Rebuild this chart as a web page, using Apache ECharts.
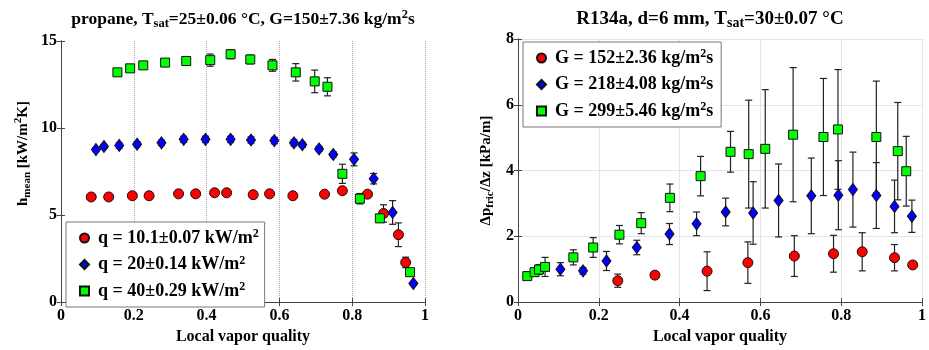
<!DOCTYPE html>
<html>
<head>
<meta charset="utf-8">
<script src="https://cdn.jsdelivr.net/npm/echarts@6/dist/echarts.min.js"></script>
<style>
  html, body { margin: 0; padding: 0; background: #fff; }
  #chart { width: 929px; height: 350px; }
</style>
</head>
<body>
<div id="chart"></div>
<script>
// left panel: propane, mean heat transfer coefficient
const propQ10x = [0.083, 0.131, 0.196, 0.242, 0.323, 0.370, 0.422, 0.455, 0.528, 0.573, 0.637, 0.724, 0.773, 0.842, 0.886, 0.927, 0.947];
const propQ10y = [6.04, 6.04, 6.11, 6.11, 6.22, 6.22, 6.28, 6.28, 6.17, 6.22, 6.11, 6.20, 6.40, 6.20, 5.09, 3.87, 2.28];
const propQ10e = [0.05, 0.05, 0.05, 0.05, 0.05, 0.05, 0.05, 0.05, 0.05, 0.05, 0.05, 0.08, 0.10, 0.12, 0.50, 0.68, 0.30];

const propQ20x = [0.096, 0.118, 0.160, 0.209, 0.276, 0.337, 0.397, 0.466, 0.522, 0.586, 0.640, 0.663, 0.709, 0.748, 0.805, 0.859, 0.911, 0.968];
const propQ20y = [8.76, 8.94, 9.00, 9.07, 9.15, 9.35, 9.35, 9.35, 9.31, 9.28, 9.15, 9.04, 8.80, 8.48, 8.20, 7.09, 5.15, 1.07];
const propQ20e = [0.12, 0.12, 0.15, 0.15, 0.15, 0.18, 0.18, 0.18, 0.18, 0.18, 0.18, 0.15, 0.15, 0.15, 0.37, 0.30, 0.68, 0.10];

const propQ40x = [0.155, 0.190, 0.226, 0.286, 0.344, 0.410, 0.466, 0.520, 0.581, 0.645, 0.697, 0.732, 0.773, 0.821, 0.876, 0.959];
const propQ40y = [13.20, 13.43, 13.60, 13.76, 13.85, 13.90, 14.24, 13.94, 13.60, 13.20, 12.68, 12.37, 7.37, 5.94, 4.81, 1.72];
const propQ40e = [0.12, 0.15, 0.15, 0.20, 0.25, 0.35, 0.26, 0.25, 0.34, 0.50, 0.65, 0.52, 0.55, 0.30, 0.20, 0.12];

// right panel: R134a, frictional pressure gradient
const r134G152x = [0.247, 0.339, 0.468, 0.569, 0.684, 0.781, 0.852, 0.932, 0.977];
const r134G152y = [0.65, 0.82, 0.94, 1.20, 1.40, 1.47, 1.53, 1.35, 1.13];
const r134G152e = [0.20, 0.10, 0.59, 0.63, 0.62, 0.56, 0.58, 0.40, 0.08];

const r134G218x = [0.105, 0.161, 0.219, 0.294, 0.375, 0.442, 0.514, 0.582, 0.645, 0.726, 0.793, 0.829, 0.887, 0.932, 0.975];
const r134G218y = [1.00, 0.95, 1.25, 1.66, 2.07, 2.38, 2.74, 2.71, 3.09, 3.23, 3.25, 3.42, 3.24, 2.91, 2.61];
const r134G218e = [0.20, 0.10, 0.29, 0.22, 0.32, 0.36, 0.42, 0.95, 1.11, 1.15, 1.05, 1.14, 1.00, 0.80, 0.49];

const r134G299x = [0.023, 0.041, 0.052, 0.067, 0.137, 0.186, 0.251, 0.305, 0.376, 0.452, 0.526, 0.571, 0.612, 0.681, 0.756, 0.792, 0.887, 0.940, 0.961];
const r134G299y = [0.79, 0.91, 0.99, 1.07, 1.36, 1.66, 2.05, 2.40, 3.17, 3.83, 4.57, 4.50, 4.66, 5.09, 5.02, 5.25, 5.02, 4.59, 3.98];
const r134G299e = [0.08, 0.10, 0.15, 0.29, 0.23, 0.30, 0.28, 0.32, 0.42, 0.60, 0.62, 1.64, 1.80, 2.04, 1.78, 1.82, 1.70, 1.48, 1.06];

const leftLegend = ['q = 10.1±0.07 kW/m{sup|2}', 'q = 20±0.14 kW/m{sup|2}', 'q = 40±0.29 kW/m{sup|2}'];
const rightLegend = ['G = 152±2.36 kg/m{sup|2}s', 'G = 218±4.08 kg/m{sup|2}s', 'G = 299±5.46 kg/m{sup|2}s'];

const FONT = '"Liberation Serif", "Times New Roman", serif';
const RED = '#ff0000', BLUE = '#0000ff', GREEN = '#00ff00';

function richSet(size) {
  return {
    sub: { fontSize: size, lineHeight: size, verticalAlign: 'bottom', fontWeight: 'bold', fontFamily: FONT },
    sup: { fontSize: size, lineHeight: size, verticalAlign: 'top', fontWeight: 'bold', fontFamily: FONT }
  };
}

function pts(xs, ys) {
  return xs.map((x, i) => [x, ys[i]]);
}
function errs(xs, ys, es) {
  return xs.map((x, i) => [x, ys[i] - es[i], ys[i] + es[i]]);
}

function errorBars(xi, yi, xs, ys, es) {
  return {
    type: 'custom',
    xAxisIndex: xi,
    yAxisIndex: yi,
    z: 1,
    silent: true,
    data: errs(xs, ys, es),
    renderItem: function (params, api) {
      const lo = api.coord([api.value(0), api.value(1)]);
      const hi = api.coord([api.value(0), api.value(2)]);
      const w = 3.5;
      const st = { stroke: '#222', lineWidth: 1.2 };
      return {
        type: 'group',
        children: [
          { type: 'line', shape: { x1: lo[0], y1: lo[1], x2: hi[0], y2: hi[1] }, style: st },
          { type: 'line', shape: { x1: lo[0] - w, y1: lo[1], x2: lo[0] + w, y2: lo[1] }, style: st },
          { type: 'line', shape: { x1: hi[0] - w, y1: hi[1], x2: hi[0] + w, y2: hi[1] }, style: st }
        ]
      };
    }
  };
}

function scatter(name, xi, yi, xs, ys, symbol, size, color) {
  return {
    name: name,
    type: 'scatter',
    xAxisIndex: xi,
    yAxisIndex: yi,
    z: 3,
    symbol: symbol,
    symbolSize: size,
    itemStyle: { color: color, borderColor: '#111', borderWidth: 1, opacity: 1 },
    data: pts(xs, ys)
  };
}

const labelStyle = { fontFamily: FONT, fontWeight: 'bold', fontSize: 16, color: '#000' };

function mainX(gi, split) {
  return {
    type: 'value', gridIndex: gi, min: 0, max: 1, interval: 0.2,
    axisLine: { lineStyle: { color: '#444' } },
    axisTick: { inside: true, length: 4, lineStyle: { color: '#444' } },
    axisLabel: Object.assign({ margin: 6, formatter: v => String(+v.toFixed(1)) }, labelStyle),
    splitLine: split,
    name: 'Local vapor quality', nameLocation: 'middle', nameGap: 24,
    nameTextStyle: { fontFamily: FONT, fontWeight: 'bold', fontSize: 16, color: '#000' }
  };
}
function mirrorX(gi) {
  return {
    type: 'value', gridIndex: gi, position: 'top', min: 0, max: 1, interval: 0.2,
    axisLine: { show: true, lineStyle: { color: '#444' } },
    axisTick: { inside: true, length: 4, lineStyle: { color: '#444' } },
    axisLabel: { show: false }, splitLine: { show: false }
  };
}
function mainY(gi, max, interval, split, name, gap, pad) {
  return {
    type: 'value', gridIndex: gi, min: 0, max: max, interval: interval,
    axisLine: { show: true, lineStyle: { color: '#444' } },
    axisTick: { inside: true, length: 4, lineStyle: { color: '#444' } },
    axisLabel: Object.assign({ margin: 4 }, labelStyle),
    splitLine: split,
    name: name, nameLocation: 'middle', nameGap: gap, nameRotate: 90,
    nameTextStyle: { fontFamily: FONT, fontWeight: 'bold', fontSize: 15, color: '#000', lineHeight: 20, padding: pad, rich: richSet(11) }
  };
}
function mirrorY(gi, max, interval) {
  return {
    type: 'value', gridIndex: gi, position: 'right', min: 0, max: max, interval: interval,
    axisLine: { show: true, lineStyle: { color: '#444' } },
    axisTick: { inside: true, length: 4, lineStyle: { color: '#444' } },
    axisLabel: { show: false }, splitLine: { show: false }
  };
}

function legendBox(names, labels, left, top, pad) {
  return {
    data: names, orient: 'vertical', left: left, top: top,
    backgroundColor: '#fff', borderColor: '#777', borderWidth: 1,
    padding: pad, itemGap: 6.5, itemWidth: 9, itemHeight: 9,
    selectedMode: false,
    formatter: name => labels[names.indexOf(name)],
    textStyle: { fontFamily: FONT, fontWeight: 'bold', fontSize: 18, color: '#000', lineHeight: 20, padding: [0, 0, 0, 4], rich: richSet(12) }
  };
}

const leftNames = ['q10', 'q20', 'q40'];
const rightNames = ['g152', 'g218', 'g299'];

function titleStyle(size) {
  return { fontFamily: FONT, fontWeight: 'bold', fontSize: size, color: '#000', lineHeight: 22, rich: richSet(size - 5) };
}

const option = {
  animation: false,
  backgroundColor: '#fff',
  title: [
    { text: 'propane, T{sub|sat}=25±0.06 °C, G=150±7.36 kg/m{sup|2}s', left: 238, top: 3, textAlign: 'center', textStyle: titleStyle(17.5) },
    { text: 'R134a, d=6 mm, T{sub|sat}=30±0.07 °C', left: 705, top: 3, textAlign: 'center', textStyle: titleStyle(19) }
  ],
  legend: [
    legendBox(leftNames, leftLegend, 66, 222, [6, 6, 6, 13]),
    legendBox(rightNames, rightLegend, 523, 42, [6, 8, 6, 13])
  ],
  grid: [
    { left: 61, top: 41, width: 364, height: 270 },
    { left: 518, top: 39, width: 407, height: 270 }
  ],
  xAxis: [
    mainX(0, { show: true, lineStyle: { color: '#aaa', type: 'dotted', width: 1 } }),
    mirrorX(0),
    mainX(1, { show: true, lineStyle: { color: '#e4e4e4', width: 1 } }),
    mirrorX(1)
  ],
  yAxis: [
    mainY(0, 15, 5, { show: false }, 'h{sub|mean} [kW/m{sup|2}K]', 28, [0, 0, 0, 36]),
    mirrorY(0, 15, 5),
    mainY(1, 8, 2, { show: true, lineStyle: { color: '#e4e4e4', width: 1 } }, 'Δp{sub|fric}/Δz [kPa/m]', 22, 0),
    mirrorY(1, 8, 2)
  ],
  series: [
    errorBars(0, 0, propQ10x, propQ10y, propQ10e),
    errorBars(0, 0, propQ20x, propQ20y, propQ20e),
    errorBars(0, 0, propQ40x, propQ40y, propQ40e),
    scatter('q10', 0, 0, propQ10x, propQ10y, 'circle', 10, RED),
    scatter('q20', 0, 0, propQ20x, propQ20y, 'diamond', [9, 12], BLUE),
    scatter('q40', 0, 0, propQ40x, propQ40y, 'rect', 9, GREEN),
    errorBars(2, 2, r134G152x, r134G152y, r134G152e),
    errorBars(2, 2, r134G218x, r134G218y, r134G218e),
    errorBars(2, 2, r134G299x, r134G299y, r134G299e),
    scatter('g152', 2, 2, r134G152x, r134G152y, 'circle', 10, RED),
    scatter('g218', 2, 2, r134G218x, r134G218y, 'diamond', [9, 12], BLUE),
    scatter('g299', 2, 2, r134G299x, r134G299y, 'rect', 9, GREEN)
  ]
};

const chart = echarts.init(document.getElementById('chart'));
chart.setOption(option);
</script>
</body>
</html>
